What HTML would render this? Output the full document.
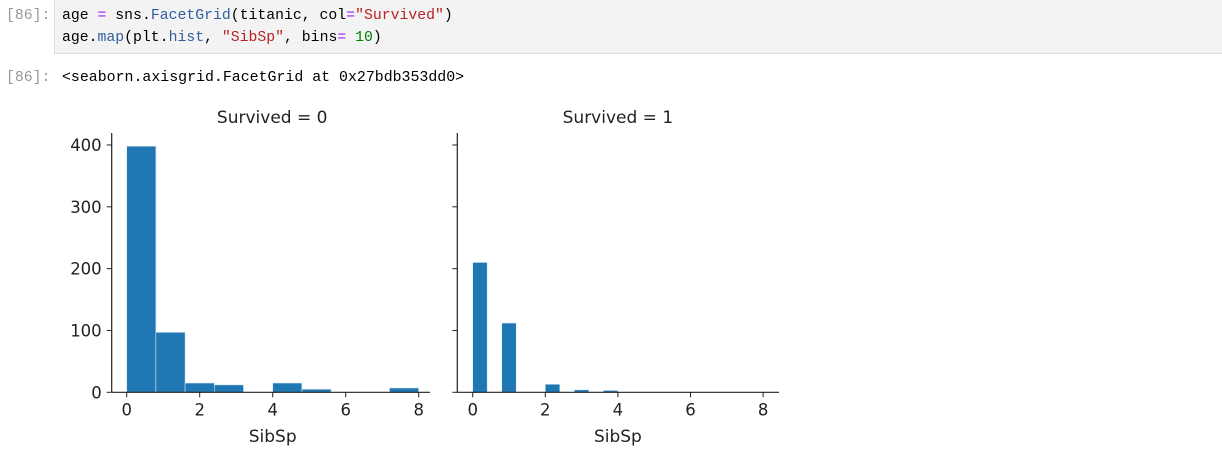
<!DOCTYPE html>
<html><head><meta charset="utf-8"><style>
body{margin:0;width:1222px;height:471px;background:#fff;overflow:hidden;position:relative;font-family:"Liberation Mono",monospace}
.prompt{position:absolute;left:6px;color:#999;font-size:14.8px}
.cell{position:absolute;left:54px;top:0;width:1168px;height:53px;background:#f3f3f3;border-bottom:1px solid #ddd;border-left:1px solid #ddd}
.code{position:absolute;left:62px;font-size:14.8px;color:#000;white-space:pre}
.kw{color:#a020f0}.fn{color:#2f5f9f}.str{color:#ba2121}.num{color:#008000}
svg{position:absolute;left:0;top:0}
svg text{font-family:"DejaVu Sans",sans-serif;fill:#222}
</style></head><body>
<div class="prompt" style="top:8px">[86]:</div>
<div class="cell"></div>
<div class="code" style="top:8px">age <span class="kw">=</span> sns.<span class="fn">FacetGrid</span>(titanic, col<span class="kw">=</span><span class="str">"Survived"</span>)</div>
<div class="code" style="top:30px">age.<span class="fn">map</span>(plt.<span class="fn">hist</span>, <span class="str">"SibSp"</span>, bins<span class="kw">=</span> <span class="num">10</span>)</div>
<div class="prompt" style="top:70px">[86]:</div>
<div class="code" style="top:70px;font-size:14.9px">&lt;seaborn.axisgrid.FacetGrid at 0x27bdb353dd0&gt;</div>
<svg id="chart" width="1222" height="471"></svg>
<script>
const binEdges0 = [0,0.8,1.6,2.4,3.2,4.0,4.8,5.6,6.4,7.2,8.0];
const counts0 = [398,97,15,12,0,15,5,0,0,7];
const binEdges1 = [0,0.4,0.8,1.2,1.6,2.0,2.4,2.8,3.2,3.6,4.0];
const counts1 = [210,0,112,0,0,13,0,4,0,3];
const xTicks = [0,2,4,6,8];
const yTicks = [0,100,200,300,400];
const titles = ["Survived = 0","Survived = 1"];
const xLabel = "SibSp";

const NS="http://www.w3.org/2000/svg";
const svg=document.getElementById('chart');
function mk(t,a,p){const e=document.createElementNS(NS,t);for(const k in a)e.setAttribute(k,a[k]);(p||svg).appendChild(e);return e;}
const y0=392.3, yScale=(v)=>y0-v*0.6183;
const panels=[
 {axisX:111.7,x0:126.7,k:36.5,end:430,edges:binEdges0,counts:counts0,labels:true},
 {axisX:457.3,x0:472.7,k:36.3,end:779,edges:binEdges1,counts:counts1,labels:false}
];
panels.forEach((p,i)=>{
  const g=mk('g',{});
  
  
  const xs=v=>p.x0+v*p.k;
  for(let b=0;b<p.counts.length;b++){
    if(!p.counts[b])continue;
    const r=mk('rect',{x:xs(p.edges[b]),y:yScale(p.counts[b]),width:xs(p.edges[b+1])-xs(p.edges[b]),height:y0-yScale(p.counts[b]),fill:'#1f77b4',stroke:'#d8e8f4','stroke-width':0.6},g);
    
    
  }
  const ya=mk('line',{x1:p.axisX,y1:133,x2:p.axisX,y2:y0,stroke:'#222','stroke-width':1.2},g);
  
  
  const xa=mk('line',{x1:p.axisX,y1:y0,x2:p.end,y2:y0,stroke:'#222','stroke-width':1.2},g);
  
  
  xTicks.forEach(t=>{
    mk('line',{x1:xs(t),y1:y0,x2:xs(t),y2:y0+5,stroke:'#222','stroke-width':1},g);
    const tx=mk('text',{x:xs(t),y:y0+23,'text-anchor':'middle','font-size':16.5},g);
    tx.textContent=t;
    
    
  });
  yTicks.forEach(t=>{
    mk('line',{x1:p.axisX-5,y1:yScale(t),x2:p.axisX,y2:yScale(t),stroke:'#222','stroke-width':1},g);
    if(p.labels){
      const tx=mk('text',{x:p.axisX-10,y:yScale(t)+6,'text-anchor':'end','font-size':16.5},g);
      tx.textContent=t;
      
      
    }
  });
  const tt=mk('text',{x:xs(4)+(p.labels?-0.5:0),y:123,'text-anchor':'middle','font-size':17},g);
  tt.textContent=titles[i];
  
  
  const xl=mk('text',{x:xs(4),y:442,'text-anchor':'middle','font-size':17},g);
  xl.textContent=xLabel;
  
  
});
</script>
</body></html>
